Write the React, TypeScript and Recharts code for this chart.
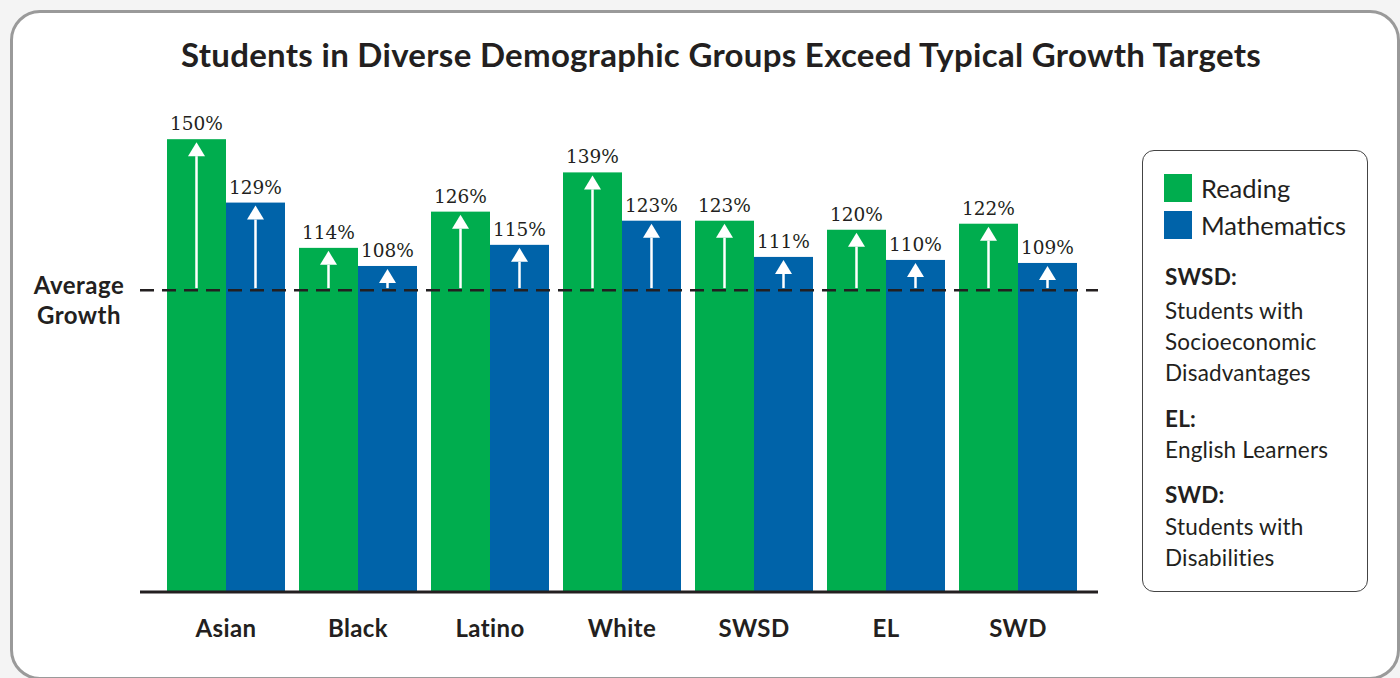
import React from "react";
import { BarChart, Bar, XAxis, YAxis, ReferenceLine, LabelList } from "recharts";

const categories = ["Asian", "Black", "Latino", "White", "SWSD", "EL", "SWD"];
const reading = [150, 114, 126, 139, 123, 120, 122];
const mathematics = [129, 108, 115, 123, 111, 110, 109];
const averageGrowth = 100;

const GREEN = "#00AD4E";
const BLUE = "#0063A9";
const INK = "#231f20";
const SANS = "Lato, 'Open Sans', sans-serif";
const LABEL_FONT = "'DejaVu Serif', serif";

const data = categories.map((name, i) => ({
  name,
  reading: reading[i],
  mathematics: mathematics[i],
}));

function arrowBar(key: "reading" | "mathematics") {
  return (props: any) => {
    const { x, y, width, height, fill, payload } = props;
    const v = payload[key];
    const bottom = y + height;
    const y100 = bottom - (height * averageGrowth) / v;
    const cx = x + width / 2;
    const tip = y + 3;
    const base = tip + 14;
    return (
      <g>
        <rect x={x} y={y} width={width} height={height} fill={fill} />
        <line x1={cx} x2={cx} y1={y100 - 2} y2={base} stroke="#fff" strokeWidth={2.5} />
        <polygon points={`${cx},${tip} ${cx - 8.5},${base} ${cx + 8.5},${base}`} fill="#fff" />
      </g>
    );
  };
}

function CategoryTick(props: any) {
  const { x, y, payload } = props;
  return (
    <text x={x} y={y + 45} textAnchor="middle" fontFamily={SANS} fontWeight={700} fontSize={24} letterSpacing={0.4} fill={INK}>
      {payload.value}
    </text>
  );
}

const legendNotes: { text: string; bold?: boolean; top: number }[] = [
  { text: "SWSD:", bold: true, top: 277 },
  { text: "Students with", top: 311 },
  { text: "Socioeconomic", top: 342 },
  { text: "Disadvantages", top: 373 },
  { text: "EL:", bold: true, top: 419 },
  { text: "English Learners", top: 450 },
  { text: "SWD:", bold: true, top: 495 },
  { text: "Students with", top: 527 },
  { text: "Disabilities", top: 558 },
];

export default function App() {
  return (
    <div style={{ position: "absolute", left: 0, top: 0, width: 1400, height: 678, background: "#f4f4f4", overflow: "hidden" }}>
      <div
        style={{
          position: "absolute",
          left: 10,
          top: 10,
          width: 1384,
          height: 664,
          border: "3px solid #9a9a9a",
          borderRadius: 30,
          background: "#fff",
        }}
      />
      <div
        style={{
          position: "absolute",
          left: 0,
          top: 34,
          width: 1442,
          textAlign: "center",
          fontFamily: SANS,
          fontWeight: 700,
          fontSize: 33,
          color: INK,
          letterSpacing: 0.3,
          whiteSpace: "nowrap",
        }}
      >
        Students in Diverse Demographic Groups Exceed Typical Growth Targets
      </div>
      <div
        style={{
          position: "absolute",
          left: 14,
          top: 270,
          width: 130,
          textAlign: "center",
          fontFamily: SANS,
          fontWeight: 700,
          fontSize: 24,
          letterSpacing: 0.5,
          lineHeight: "30px",
          color: INK,
        }}
      >
        Average
        <br />
        Growth
      </div>
      <div style={{ position: "absolute", left: 0, top: 0 }}>
        <BarChart
          width={1400}
          height={678}
          data={data}
          margin={{ top: 109, right: 302, bottom: 46, left: 140 }}
          barGap={0}
          barSize={59}
        >
          <XAxis
            dataKey="name"
            height={40}
            padding={{ left: 20, right: 14 }}
            axisLine={{ stroke: INK, strokeWidth: 3 }}
            tickLine={false}
            tickSize={0}
            tickMargin={0}
            tick={<CategoryTick />}
            interval={0}
          />
          <YAxis hide domain={[0, 160]} />
          <Bar dataKey="reading" name="Reading" fill={GREEN} shape={arrowBar("reading")} isAnimationActive={false}>
            <LabelList dataKey="reading" position="top" offset={9} formatter={(v: any) => `${v}%`} fontFamily={LABEL_FONT} fontSize={18.5} fill={INK} />
          </Bar>
          <Bar dataKey="mathematics" name="Mathematics" fill={BLUE} shape={arrowBar("mathematics")} isAnimationActive={false}>
            <LabelList dataKey="mathematics" position="top" offset={9} formatter={(v: any) => `${v}%`} fontFamily={LABEL_FONT} fontSize={18.5} fill={INK} />
          </Bar>
          <ReferenceLine y={averageGrowth} stroke={INK} strokeWidth={2.5} strokeDasharray="14 8" />
        </BarChart>
      </div>
      <div
        style={{
          position: "absolute",
          left: 1142,
          top: 150,
          width: 224,
          height: 440,
          border: "1px solid #444",
          borderRadius: 12,
          background: "#fff",
        }}
      />
      {[
        { label: "Reading", color: GREEN, top: 174 },
        { label: "Mathematics", color: BLUE, top: 211 },
      ].map((s) => (
        <div key={s.label}>
          <div style={{ position: "absolute", left: 1164, top: s.top, width: 28, height: 28, background: s.color }} />
          <div
            style={{
              position: "absolute",
              left: 1201,
              top: s.top - 2,
              fontFamily: SANS,
              fontSize: 25.5,
              lineHeight: "32px",
              color: INK,
              whiteSpace: "nowrap",
            }}
          >
            {s.label}
          </div>
        </div>
      ))}
      {legendNotes.map((n, i) => (
        <div
          key={i}
          style={{
            position: "absolute",
            left: 1165,
            top: n.top - 15,
            fontFamily: SANS,
            fontWeight: n.bold ? 700 : 400,
            fontSize: 22.5,
            letterSpacing: 0.2,
            lineHeight: "30px",
            color: INK,
            whiteSpace: "nowrap",
          }}
        >
          {n.text}
        </div>
      ))}
    </div>
  );
}
